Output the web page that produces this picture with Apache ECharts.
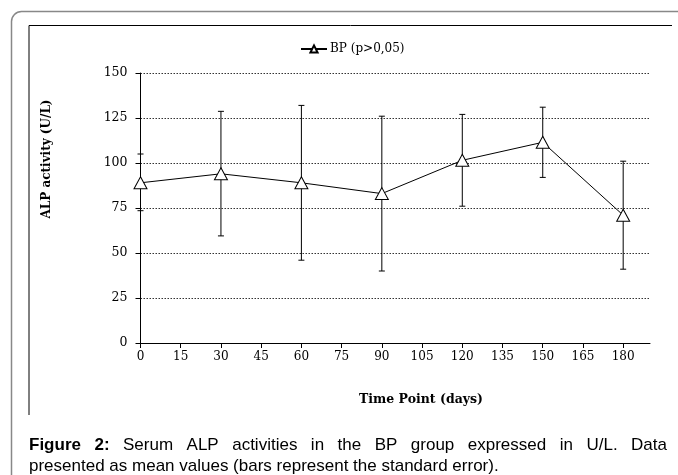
<!DOCTYPE html>
<html>
<head>
<meta charset="utf-8">
<script src="https://cdn.jsdelivr.net/npm/echarts@6/dist/echarts.min.js"></script>
<style>
  html, body { margin: 0; padding: 0; background: #fff; }
  #chart { width: 678px; height: 475px; }
</style>
</head>
<body>
<div id="chart"></div>
<script>
// values
var days = [0, 30, 60, 90, 120, 150, 180];
var meanALP = [89, 94, 89, 83, 101.5, 111.5, 71];
var upperALP = [105, 128.7, 132, 126, 127, 131, 101];
var lowerALP = [73.5, 59.5, 46, 40, 76, 92, 41];
var xTicks = [0, 15, 30, 45, 60, 75, 90, 105, 120, 135, 150, 165, 180];

var serif = '"DejaVu Serif", serif';
var sans = '"Liberation Sans", Arial, sans-serif';

var chart = echarts.init(document.getElementById('chart'));

var lineData = days.map(function (d, i) { return [d, meanALP[i]]; });
var errData = days.map(function (d, i) { return [d, lowerALP[i], upperALP[i]]; });

// caption, first line justified like the original
var captionLine1 = ['Figure', '2:', 'Serum', 'ALP', 'activities', 'in', 'the', 'BP', 'group', 'expressed', 'in', 'U/L.', 'Data'];
var captionLine2 = 'presented as mean values (bars represent the standard error).';
var capSize = 17;
var ctx = document.createElement('canvas').getContext('2d');
function wordWidth(w, bold) {
  ctx.font = (bold ? 'bold ' : '') + capSize + 'px ' + sans;
  return ctx.measureText(w).width;
}
var capLeft = 29, capRight = 667;
var totalW = 0;
captionLine1.forEach(function (w, i) { totalW += wordWidth(w, i < 2); });
var gap = (capRight - capLeft - totalW) / (captionLine1.length - 1);
var capX = capLeft;
var captionEls = captionLine1.map(function (w, i) {
  var el = {
    type: 'text', x: capX, y: 445,
    style: { text: w, font: (i < 2 ? 'bold ' : '') + capSize + 'px ' + sans, fill: '#000', verticalAlign: 'middle' }
  };
  capX += wordWidth(w, i < 2) + gap;
  return el;
});
captionEls.push({
  type: 'text', x: capLeft, y: 466,
  style: { text: captionLine2, font: capSize + 'px ' + sans, fill: '#000', verticalAlign: 'middle' }
});

var option = {
  animation: false,
  backgroundColor: '#fff',
  grid: { left: 140.5, right: 28, top: 73, bottom: 132 },
  legend: {
    top: 38, left: 295,
    itemWidth: 26, itemHeight: 9, itemGap: 4,
    textStyle: { fontFamily: serif, fontSize: 12, color: '#000', padding: [0, 0, 0, -2] },
    data: ['BP (p>0,05)']
  },
  xAxis: {
    type: 'value', min: 0, max: 190, interval: 15,
    axisLine: { lineStyle: { color: '#000', width: 1 } },
    axisTick: { show: true, length: 5, customValues: xTicks, lineStyle: { color: '#000' } },
    axisLabel: { customValues: xTicks, color: '#000', fontFamily: serif, fontSize: 12, margin: 8 },
    splitLine: { show: false }
  },
  yAxis: {
    type: 'value', min: 0, max: 150, interval: 25,
    axisLine: { show: true, lineStyle: { color: '#000', width: 1 } },
    axisTick: { show: true, length: 5, lineStyle: { color: '#000' } },
    axisLabel: { color: '#000', fontFamily: serif, fontSize: 12.5, margin: 13 },
    splitLine: { lineStyle: { color: '#333', type: [1.5, 1.5], width: 1 } }
  },
  graphic: [
    { type: 'rect', shape: { x: 11.5, y: 11.5, width: 720, height: 520, r: 10 },
      style: { stroke: '#888', lineWidth: 1.5, fill: null }, z: -1 },
    { type: 'polyline', shape: { points: [[29, 415], [29, 25.5], [672, 25.5]] },
      style: { stroke: '#000', lineWidth: 1, fill: null } },
    { type: 'text', x: 47, y: 159, rotation: Math.PI / 2,
      style: { text: 'ALP activity (U/L)', font: 'bold 12px ' + serif, fill: '#000', align: 'center', verticalAlign: 'middle' } },
    { type: 'text', x: 421, y: 400,
      style: { text: 'Time Point (days)', font: 'bold 12.5px ' + serif, fill: '#000', align: 'center', verticalAlign: 'middle' } }
  ].concat(captionEls),
  series: [
    {
      name: 'err',
      type: 'custom',
      data: errData,
      z: 1,
      renderItem: function (params, api) {
        var lo = api.coord([api.value(0), api.value(1)]);
        var hi = api.coord([api.value(0), api.value(2)]);
        var c = 3;
        return {
          type: 'group',
          children: [
            { type: 'line', shape: { x1: lo[0], y1: lo[1], x2: hi[0], y2: hi[1] }, style: { stroke: '#000', lineWidth: 1 } },
            { type: 'line', shape: { x1: lo[0] - c, y1: lo[1], x2: lo[0] + c, y2: lo[1] }, style: { stroke: '#000', lineWidth: 1 } },
            { type: 'line', shape: { x1: hi[0] - c, y1: hi[1], x2: hi[0] + c, y2: hi[1] }, style: { stroke: '#000', lineWidth: 1 } }
          ]
        };
      }
    },
    {
      name: 'BP (p>0,05)',
      type: 'line',
      data: lineData,
      z: 3,
      symbol: 'triangle',
      symbolSize: [13, 12],
      showAllSymbol: true,
      lineStyle: { color: '#000', width: 1 },
      itemStyle: { color: '#fff', borderColor: '#000', borderWidth: 1 }
    }
  ]
};

chart.setOption(option);
</script>
</body>
</html>
